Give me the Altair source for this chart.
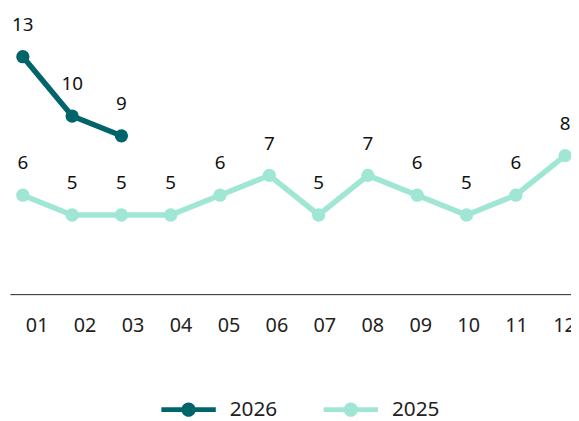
import altair as alt
import pandas as pd

months = list(range(1, 13))
series_names = ["2026", "2025"]
values_2026 = [13, 10, 9]
values_2025 = [6, 5, 5, 5, 6, 7, 5, 7, 6, 5, 6, 8]
colors = ["#00656a", "#a0e6d4"]

rows = []
for m, v in zip(months, values_2026):
    rows.append({"month": m, "value": v, "series": "2026"})
for m, v in zip(months, values_2025):
    rows.append({"month": m, "value": v, "series": "2025"})
df = pd.DataFrame(rows)
df25 = df[df.series == "2025"]

FONT = "Noto Sans"
legend_path = ("M-1,-0.09L1,-0.09L1,0.09L-1,0.09Z "
               "M0.26,0A0.26,0.26 0 1,1 -0.26,0A0.26,0.26 0 1,1 0.26,0Z")

legend = alt.Legend(title=None, orient="none", direction="horizontal",
                    legendX=153, legendY=369,
                    symbolType=legend_path, symbolSize=3025,
                    symbolStrokeWidth=0, labelFontSize=21,
                    labelFont=FONT, labelColor="#222",
                    labelOffset=14, columnPadding=46, padding=0)

yscale = alt.Scale(domain=[1, 15], nice=False, zero=False)
xmain = alt.X("month:Q",
              scale=alt.Scale(domain=[0.739, 12.12], nice=False, zero=False),
              axis=alt.Axis(labels=False, ticks=False, grid=False, domainColor="#222",
                            domainWidth=1, title=None))
color = alt.Color("series:N", scale=alt.Scale(domain=series_names, range=colors),
                  legend=legend)

base = alt.Chart(df).encode(x=xmain, y=alt.Y("value:Q", scale=yscale, axis=None), color=color)

lines = base.mark_line(strokeWidth=5.5)
points = base.mark_point(filled=True, size=180, opacity=1)
labels = base.mark_text(dy=-32, fontSize=19, font=FONT).encode(
    text="value:Q", color=alt.value("#111"))

main = alt.layer(lines, points, labels)

month_axis = alt.Chart(df25).mark_point(opacity=0).encode(
    x=alt.X("month:Q",
            scale=alt.Scale(domain=[0.443, 12.145], nice=False, zero=False),
            axis=alt.Axis(values=months, orient="bottom", ticks=False, domain=False, grid=False,
                          labelPadding=22, labelFontSize=20, labelFont=FONT, labelColor="#222",
                          labelFlush=False, labelOverlap=False, title=None,
                          labelExpr="datum.value < 10 ? '0' + datum.value : '' + datum.value")),
    y=alt.Y("value:Q", scale=yscale, axis=None),
)

chart = alt.layer(main, month_axis).resolve_scale(x="independent").properties(
    width=567, height=280,
    padding={"left": 2, "top": 7, "right": 0, "bottom": 126},
    autosize=alt.AutoSizeParams(type="none"),
).configure_view(stroke=None)

chart.save("out.html", embed_options={"renderer": "svg", "actions": False})
